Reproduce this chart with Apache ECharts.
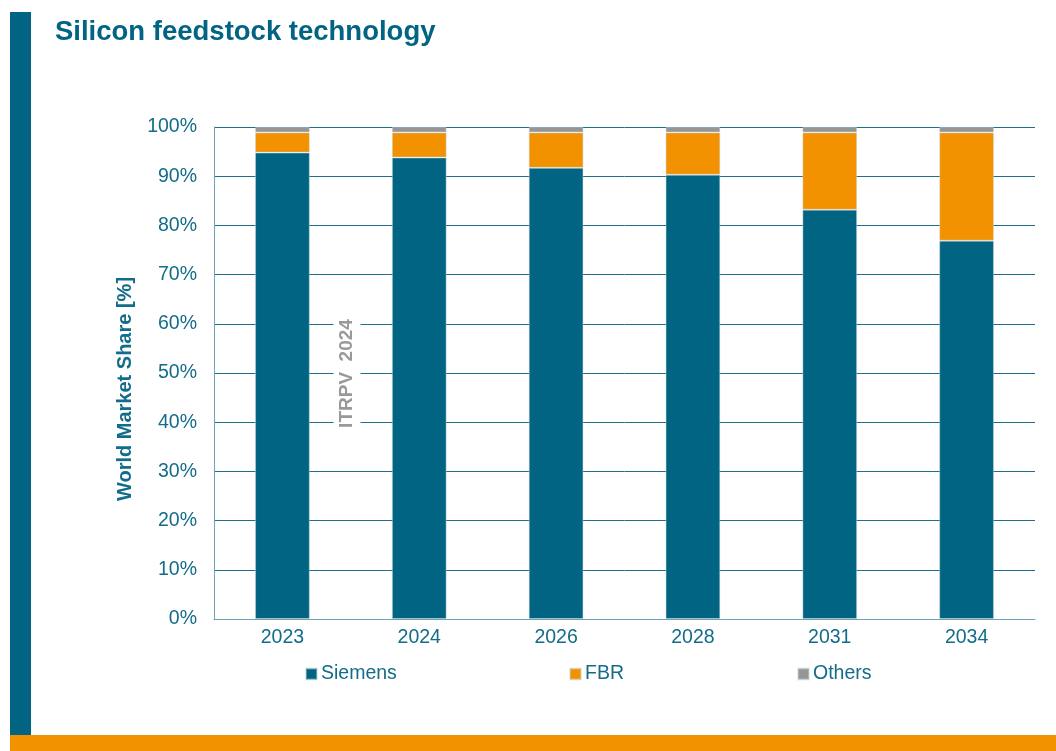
<!DOCTYPE html>
<html>
<head>
<meta charset="utf-8">
<title>Silicon feedstock technology</title>
<script src="https://cdn.jsdelivr.net/npm/echarts@6/dist/echarts.min.js"></script>
<style>
  html, body { margin: 0; padding: 0; background: #fff; }
  #chart { width: 1056px; height: 751px; }
</style>
</head>
<body>
<div id="chart"></div>
<script>
// Market share of polysilicon feedstock technologies (%)
const years = ['2023', '2024', '2026', '2028', '2031', '2034'];
const siemens = [94.8, 93.8, 91.7, 90.3, 83.2, 76.9];
const fbr = [4.1, 5.1, 7.2, 8.6, 15.7, 22.0];
const others = [1.1, 1.1, 1.1, 1.1, 1.1, 1.1];
const yTicks = [0, 10, 20, 30, 40, 50, 60, 70, 80, 90, 100];

const TEAL = '#006482';
const ORANGE = '#F39200';
const GREY = '#969696';
const TEXT = '#136C89';
const FONT = '"Liberation Sans", Arial, sans-serif';
const FS = 19.5;

const chart = echarts.init(document.getElementById('chart'), null, { renderer: 'canvas' });

const barStyle = (color) => ({
  color: color,
  borderColor: 'rgba(200,215,222,0.45)',
  borderWidth: 1
});

function legendAt(name, left) {
  return {
    data: [name],
    left: left,
    top: 664,
    padding: 0,
    itemWidth: 11,
    itemHeight: 11,
    itemGap: 0,
    icon: 'rect',
    selectedMode: false,
    textStyle: { color: TEXT, fontSize: FS, fontFamily: FONT, padding: [0, 0, 0, -1] }
  };
}

chart.setOption({
  animation: false,
  backgroundColor: '#fff',
  textStyle: { fontFamily: FONT },
  grid: { left: 214, right: 21, top: 127, bottom: 132 },
  legend: [legendAt('Siemens', 305), legendAt('FBR', 569), legendAt('Others', 797)],
  xAxis: {
    type: 'category',
    data: years,
    axisLine: { lineStyle: { color: '#6FA3B7', width: 1 } },
    axisTick: { show: false },
    axisLabel: { color: TEXT, fontSize: FS, fontFamily: FONT, margin: 9 }
  },
  yAxis: {
    type: 'value',
    min: yTicks[0],
    max: yTicks[yTicks.length - 1],
    interval: yTicks[1] - yTicks[0],
    axisLine: { show: true, lineStyle: { color: '#6FA3B7', width: 1 } },
    axisTick: { show: false },
    axisLabel: {
      color: TEXT, fontSize: FS, fontFamily: FONT, margin: 17, formatter: '{value}%',
      padding: [3, 0, 0, 0]
    },
    splitLine: { lineStyle: { color: '#1F6F8B', width: 1 } }
  },
  series: [
    { name: 'Siemens', type: 'bar', stack: 'share', data: siemens, barWidth: '40%', itemStyle: barStyle(TEAL) },
    { name: 'FBR', type: 'bar', stack: 'share', data: fbr, barWidth: '40%', itemStyle: barStyle(ORANGE) },
    { name: 'Others', type: 'bar', stack: 'share', data: others, barWidth: '40%', itemStyle: barStyle(GREY) }
  ],
  graphic: [
    // left accent bar
    { type: 'rect', left: 10, top: 12, shape: { width: 21, height: 723 }, style: { fill: TEAL }, z: 10 },
    // bottom accent band
    { type: 'rect', left: 10, top: 735, shape: { width: 1046, height: 16 }, style: { fill: ORANGE }, z: 10 },
    // title
    {
      type: 'text', left: 55, top: 18, z: 10,
      style: { text: 'Silicon feedstock technology', fill: TEAL, font: 'bold 27.5px ' + FONT }
    },
    // value axis title
    {
      type: 'text', x: 125.5, y: 389, rotation: Math.PI / 2, z: 10,
      style: {
        text: 'World Market Share [%]', fill: TEXT, font: 'bold 20px ' + FONT,
        align: 'center', verticalAlign: 'middle'
      }
    },
    // source stamp
    {
      type: 'text', x: 347, y: 373.5, rotation: Math.PI / 2, z: 20,
      style: {
        text: 'ITRPV  2024', fill: '#999999', font: 'bold 19px ' + FONT,
        align: 'center', verticalAlign: 'middle',
        backgroundColor: '#fff', padding: [4, 8, 4, 8]
      }
    }
  ]
});
</script>
</body>
</html>
